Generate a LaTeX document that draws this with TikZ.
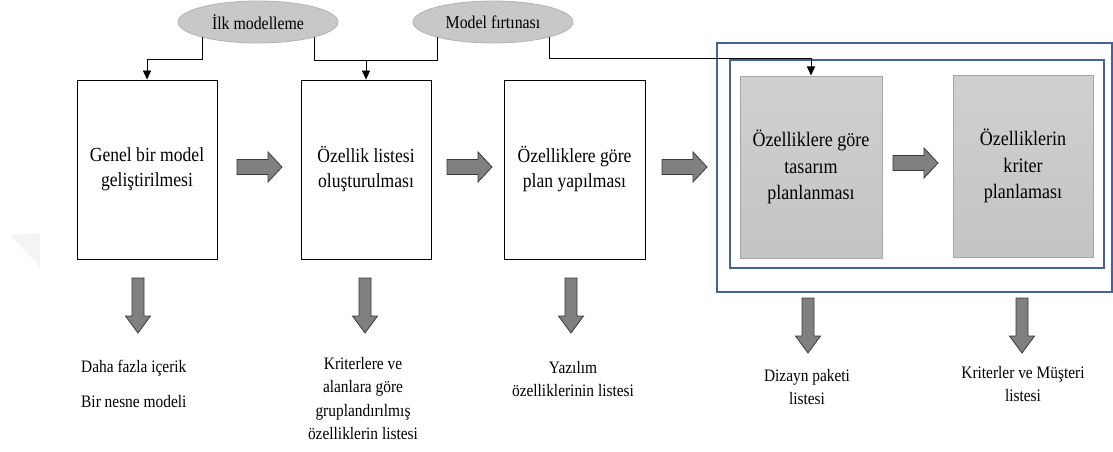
\documentclass[tikz,border=0pt]{standalone}
\usepackage{fontspec}
\newfontfamily\diagfont[FakeStretch=0.88]{Liberation Serif}
\usetikzlibrary{shapes.geometric,arrows.meta}

\definecolor{framecol}{RGB}{68,98,158}
\definecolor{ellfill}{RGB}{200,200,200}
\definecolor{ellline}{RGB}{178,178,178}
\definecolor{boxgray}{RGB}{208,208,208}
\definecolor{boxgraylow}{RGB}{196,196,196}
\definecolor{boxgrayline}{RGB}{165,165,165}
\definecolor{arrowfill}{RGB}{128,128,128}
\definecolor{arrowline}{RGB}{58,58,58}

\begin{document}
\begin{tikzpicture}[x=1pt,y=-1pt,
  stepbox/.style={draw=black, line width=0.9pt, minimum width=#1, minimum height=179pt,
    inner sep=0pt, align=center, font=\diagfont\fontsize{20}{25}\selectfont},
  graybox/.style={draw=boxgrayline, line width=1pt, top color=boxgray, bottom color=boxgraylow,
    minimum width=#1, minimum height=182pt, inner sep=0pt, align=center,
    font=\diagfont\fontsize{20.5}{26.5}\selectfont},
  bubble/.style={ellipse, draw=ellline, line width=0.8pt, fill=ellfill, minimum width=160pt,
    minimum height=42pt, inner sep=0pt, outer sep=0pt, font=\diagfont\fontsize{18}{22}\selectfont},
  conn/.style={draw=black, line width=0.8pt},
  connarrow/.style={conn, -{Triangle[length=9pt,width=8pt]}},
  frame/.style={draw=framecol, line width=1.2pt},
  result/.style={align=center, inner sep=0pt, font=\diagfont\fontsize{17.5}{23.5}\selectfont},
  blockarrow/.style={draw=arrowline, line width=0.8pt, fill=arrowfill},
  harrow/.pic={\path[blockarrow] (0,-7.5) -- (31,-7.5) -- (31,-15) -- (45,0) -- (31,15)
    -- (31,7.5) -- (0,7.5) -- cycle;},
  darrow/.pic={\path[blockarrow] (-6,0) -- (6,0) -- (6,38) -- (12.5,38) -- (0,55)
    -- (-12.5,38) -- (-6,38) -- cycle;}
]
\useasboundingbox (0,0) rectangle (1113,452);

% faint mark at the left margin
\fill[gray!9] (10,235) -- (40,233) -- (40,267) -- cycle;

% frames around the last two steps
\draw[frame] (717,43) rectangle (1112,292);
\draw[frame] (730,60) rectangle (1104,268);

% modelling bubbles
\node[bubble] (e1) at (258,22) {İlk modelleme};
\node[bubble] (e2) at (493,22) {Model fırtınası};

% process steps
\node[stepbox=140pt] (b1) at (147,169.5) {Genel bir model\\geliştirilmesi};
\node[stepbox=130pt] (b2) at (366,169.5) {Özellik listesi\\oluşturulması};
\node[stepbox=141pt] (b3) at (574.5,169.5) {Özelliklere göre\\plan yapılması};
\node[graybox=142pt] (g1) at (811,167) {Özelliklere göre\\tasarım\\planlanması};
\node[graybox=140pt] (g2) at (1023,166) {Özelliklerin\\kriter\\planlaması};

% connectors from the bubbles
\coordinate (j1) at (b1.north |- 0,59);
\coordinate (j2) at (b2.north |- 0,60);
\coordinate (j3) at (g1.north |- 0,58);
\draw[conn] (e1.195) |- (j1);
\draw[connarrow] (j1) -- (b1.north);
\draw[conn] (e1.345) |- (j2);
\draw[conn] (e2.195) |- (j2);
\draw[connarrow] (j2) -- (b2.north);
\draw[conn] (e2.345) |- (j3);
\draw[connarrow] (j3) -- (g1.north);

% flow between the steps
\pic (h1) at (237,167) {harrow};
\pic (h2) at (447,167) {harrow};
\pic (h3) at (662,167) {harrow};
\pic (h4) at (893,163) {harrow};

% outputs of each step
\pic (d1) at (138,278) {darrow};
\pic (d2) at (365,278) {darrow};
\pic (d3) at (571,278) {darrow};
\pic (d4) at (808,298) {darrow};
\pic (d5) at (1022,298) {darrow};

\node[result, anchor=west] (r1a) at (81,368) {Daha fazla içerik};
\node[result, anchor=west] (r1b) at (81,402) {Bir nesne modeli};
\node[result, anchor=north] (r2) at (363,357) {Kriterlere ve\\alanlara göre\\gruplandırılmış\\özelliklerin listesi};
\node[result, anchor=north] (r3) at (573,361) {Yazılım\\özelliklerinin listesi};
\node[result, anchor=north] (r4) at (807,369) {Dizayn paketi\\listesi};
\node[result, anchor=north] (r5) at (1023,366) {Kriterler ve Müşteri\\listesi};
\end{tikzpicture}
\end{document}
